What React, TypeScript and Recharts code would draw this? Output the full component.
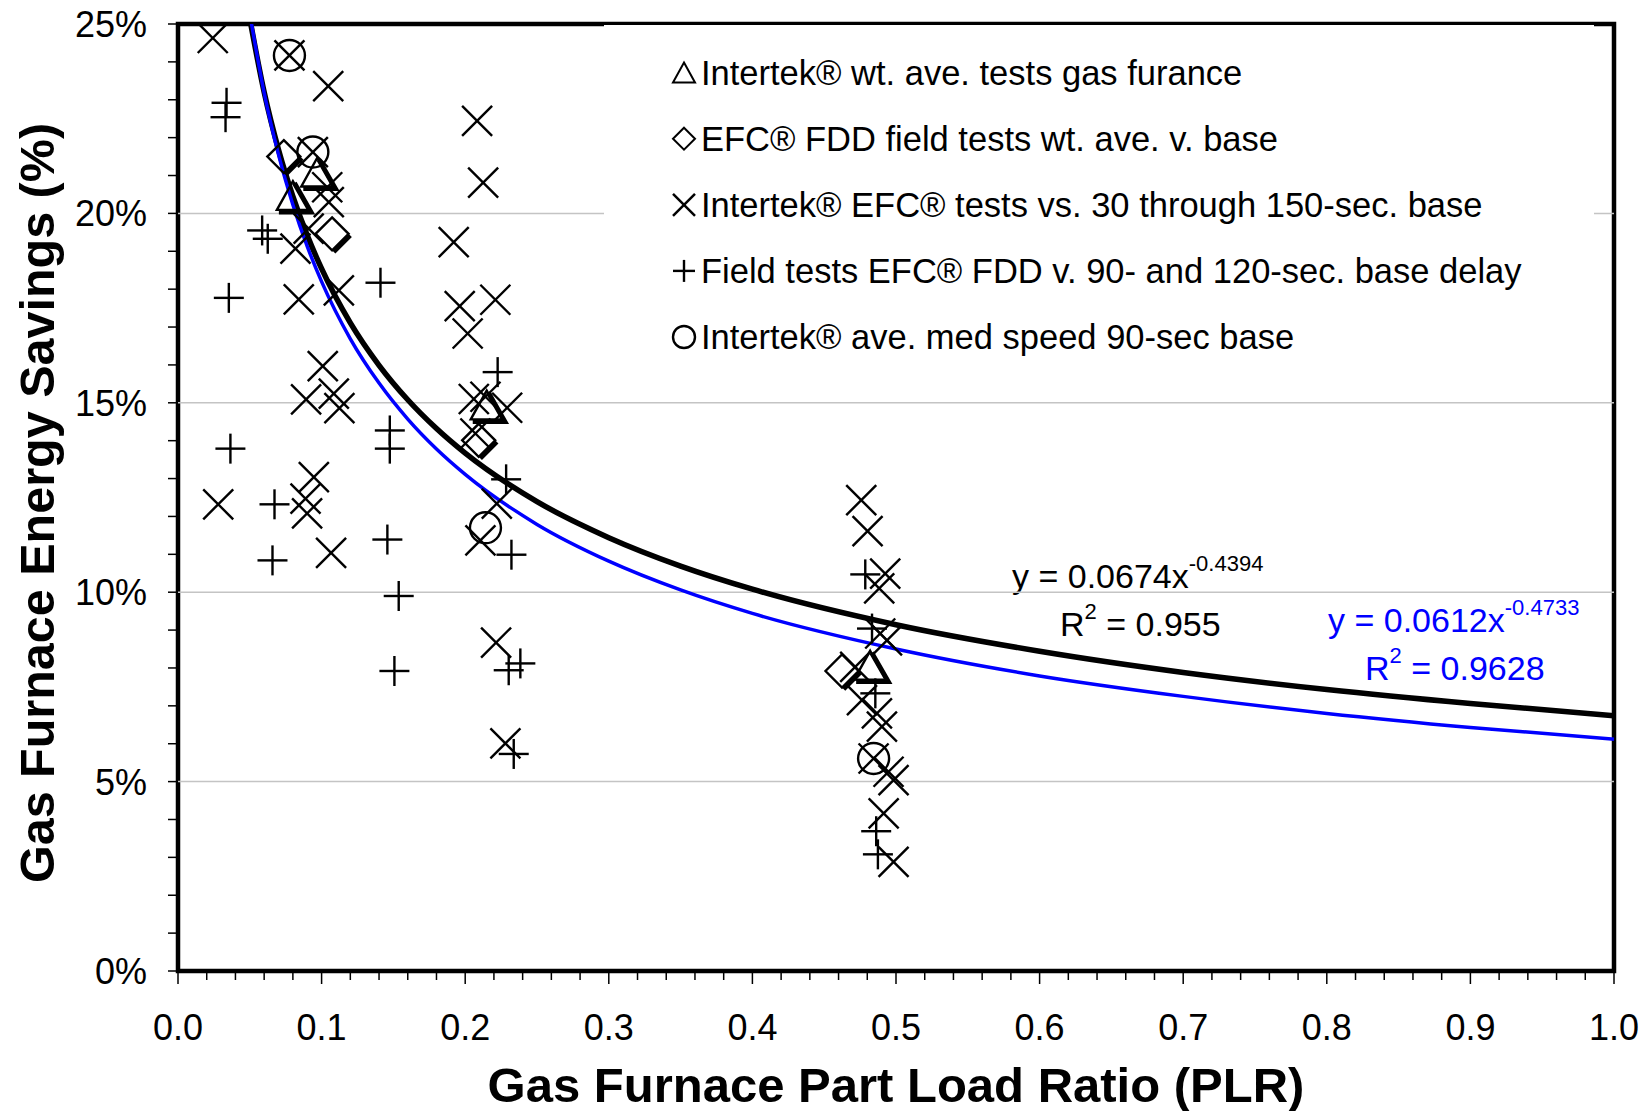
import {
  ComposedChart,
  Legend,
  Line,
  ReferenceArea,
  ReferenceLine,
  Scatter,
  XAxis,
  YAxis,
} from 'recharts';

type Pt = { x: number; y: number };

const FONT = '"Liberation Sans", Arial, Helvetica, sans-serif';

// x = part load ratio, y = savings in %
const intertekWtAve: Pt[] = [
  { x: 0.08, y: 20.43 },
  { x: 0.097, y: 21.05 },
  { x: 0.215, y: 14.9 },
  { x: 0.482, y: 8.03 },
];

const efcFieldWtAve: Pt[] = [
  { x: 0.0737, y: 21.5 },
  { x: 0.1073, y: 19.46 },
  { x: 0.2094, y: 14.01 },
  { x: 0.4624, y: 7.92 },
];

const intertekEfcTests: Pt[] = [
  { x: 0.0242, y: 24.63 },
  { x: 0.0776, y: 24.17 },
  { x: 0.1046, y: 23.36 },
  { x: 0.2083, y: 22.44 },
  { x: 0.2125, y: 20.81 },
  { x: 0.0939, y: 21.62 },
  { x: 0.1039, y: 20.69 },
  { x: 0.105, y: 20.3 },
  { x: 0.091, y: 19.6 },
  { x: 0.192, y: 19.24 },
  { x: 0.0818, y: 19.07 },
  { x: 0.0841, y: 17.73 },
  { x: 0.112, y: 17.97 },
  { x: 0.1962, y: 17.55 },
  { x: 0.221, y: 17.72 },
  { x: 0.2017, y: 16.83 },
  { x: 0.1008, y: 15.97 },
  { x: 0.0892, y: 15.09 },
  { x: 0.1085, y: 15.24 },
  { x: 0.1124, y: 14.86 },
  { x: 0.206, y: 15.1 },
  { x: 0.2141, y: 15.16 },
  { x: 0.2292, y: 14.87 },
  { x: 0.2071, y: 14.19 },
  { x: 0.0946, y: 13.04 },
  { x: 0.028, y: 12.32 },
  { x: 0.0888, y: 12.47 },
  { x: 0.0899, y: 12.08 },
  { x: 0.1066, y: 11.04 },
  { x: 0.222, y: 12.34 },
  { x: 0.2106, y: 11.37 },
  { x: 0.2215, y: 8.67 },
  { x: 0.228, y: 6.01 },
  { x: 0.4758, y: 12.43 },
  { x: 0.4802, y: 11.61 },
  { x: 0.4925, y: 10.49 },
  { x: 0.4883, y: 10.1 },
  { x: 0.489, y: 8.91 },
  { x: 0.4937, y: 8.73 },
  { x: 0.4716, y: 8.03 },
  { x: 0.4763, y: 7.15 },
  { x: 0.4867, y: 6.8 },
  { x: 0.4902, y: 6.45 },
  { x: 0.4844, y: 5.61 },
  { x: 0.4948, y: 5.26 },
  { x: 0.4983, y: 5.04 },
  { x: 0.4914, y: 4.16 },
  { x: 0.4983, y: 2.88 },
];

const fieldTests: Pt[] = [
  { x: 0.0338, y: 22.92 },
  { x: 0.0331, y: 22.54 },
  { x: 0.0586, y: 19.55 },
  { x: 0.0625, y: 19.33 },
  { x: 0.0354, y: 17.77 },
  { x: 0.141, y: 18.17 },
  { x: 0.2226, y: 15.81 },
  { x: 0.1475, y: 14.27 },
  { x: 0.1475, y: 13.79 },
  { x: 0.0365, y: 13.79 },
  { x: 0.2285, y: 12.98 },
  { x: 0.0672, y: 12.32 },
  { x: 0.0658, y: 10.84 },
  { x: 0.2322, y: 10.99 },
  { x: 0.1458, y: 11.39 },
  { x: 0.1537, y: 9.9 },
  { x: 0.1507, y: 7.92 },
  { x: 0.2303, y: 7.94 },
  { x: 0.2384, y: 8.12 },
  { x: 0.2338, y: 5.73 },
  { x: 0.4786, y: 10.47 },
  { x: 0.4833, y: 9.04 },
  { x: 0.4856, y: 7.33 },
  { x: 0.4862, y: 3.69 },
  { x: 0.4874, y: 3.08 },
];

const intertekMedSpeed: Pt[] = [
  { x: 0.0776, y: 24.17 },
  { x: 0.0939, y: 21.62 },
  { x: 0.2141, y: 11.7 },
  { x: 0.4844, y: 5.61 },
];

// trend curves
const blackFit: Pt[] = [
  { x: 0.05, y: 25.14 }, { x: 0.06, y: 23.2 }, { x: 0.07, y: 21.68 },
  { x: 0.08, y: 20.45 }, { x: 0.09, y: 19.42 }, { x: 0.1, y: 18.54 },
  { x: 0.12, y: 17.11 }, { x: 0.14, y: 15.99 }, { x: 0.16, y: 15.08 },
  { x: 0.18, y: 14.32 }, { x: 0.2, y: 13.67 }, { x: 0.25, y: 12.39 },
  { x: 0.3, y: 11.44 }, { x: 0.35, y: 10.69 }, { x: 0.4, y: 10.08 },
  { x: 0.5, y: 9.14 }, { x: 0.6, y: 8.44 }, { x: 0.7, y: 7.88 },
  { x: 0.8, y: 7.43 }, { x: 0.9, y: 7.06 }, { x: 1.0, y: 6.74 },
];

const blueFit: Pt[] = [
  { x: 0.05, y: 25.27 }, { x: 0.06, y: 23.18 }, { x: 0.07, y: 21.55 },
  { x: 0.08, y: 20.23 }, { x: 0.09, y: 19.13 }, { x: 0.1, y: 18.2 },
  { x: 0.12, y: 16.69 }, { x: 0.14, y: 15.52 }, { x: 0.16, y: 14.57 },
  { x: 0.18, y: 13.78 }, { x: 0.2, y: 13.11 }, { x: 0.25, y: 11.79 },
  { x: 0.3, y: 10.82 }, { x: 0.35, y: 10.06 }, { x: 0.4, y: 9.44 },
  { x: 0.5, y: 8.5 }, { x: 0.6, y: 7.79 }, { x: 0.7, y: 7.25 },
  { x: 0.8, y: 6.8 }, { x: 0.9, y: 6.43 }, { x: 1.0, y: 6.12 },
];

const seriesNames = [
  'Intertek® wt. ave. tests gas furance',
  'EFC® FDD field tests wt. ave. v. base',
  'Intertek® EFC® tests vs. 30 through 150-sec. base',
  'Field tests EFC® FDD v. 90- and 120-sec. base delay',
  'Intertek® ave. med speed 90-sec base',
];

const xTicks = Array.from({ length: 51 }, (_, i) => i / 50);
const yTicks = Array.from({ length: 26 }, (_, i) => i);
const yGrid = [5, 10, 15, 20];

const xTitle = 'Gas Furnace Part Load Ratio (PLR)';
const yTitle = 'Gas Furnace Energy Savings (%)';
const blackEq = { coef: 'y = 0.0674x', exp: '-0.4394', r2: '0.955' };
const blueEq = { coef: 'y = 0.0612x', exp: '-0.4733', r2: '0.9628' };

const BLUE = '#0000ff';
const SW = 2.4;

type MarkProps = { cx: number; cy: number; s?: number; shadow?: boolean };

const XMark = ({ cx, cy, s = 15 }: MarkProps) => (
  <g stroke="#000" strokeWidth={SW} fill="none">
    <line x1={cx - s} y1={cy - s} x2={cx + s} y2={cy + s} />
    <line x1={cx - s} y1={cy + s} x2={cx + s} y2={cy - s} />
  </g>
);

const PlusMark = ({ cx, cy, s = 15 }: MarkProps) => (
  <g stroke="#000" strokeWidth={SW} fill="none">
    <line x1={cx - s} y1={cy} x2={cx + s} y2={cy} />
    <line x1={cx} y1={cy - s} x2={cx} y2={cy + s} />
  </g>
);

const CircleMark = ({ cx, cy, s = 15.5 }: MarkProps) => (
  <circle cx={cx} cy={cy} r={s} stroke="#000" strokeWidth={SW} fill="none" />
);

const TriMark = ({ cx, cy, s = 16, shadow = true }: MarkProps) => {
  const b = cy + s * 0.8;
  return (
    <g fill="none" stroke="#000">
      {shadow && (
        <polyline
          points={`${cx + 1.5},${cy - s + 2} ${cx + s + 2},${b + 2} ${cx - s + 2},${b + 2}`}
          strokeWidth={5}
        />
      )}
      <polygon points={`${cx},${cy - s} ${cx + s},${b} ${cx - s},${b}`} strokeWidth={shadow ? SW : 2} />
    </g>
  );
};

const DiamondMark = ({ cx, cy, s = 16.5, shadow = true }: MarkProps) => (
  <g fill="none" stroke="#000">
    {shadow && (
      <polyline points={`${cx + s + 1.5},${cy + 1.5} ${cx + 1.5},${cy + s + 1.5}`} strokeWidth={5} />
    )}
    <polygon
      points={`${cx},${cy - s} ${cx + s},${cy} ${cx},${cy + s} ${cx - s},${cy}`}
      strokeWidth={shadow ? SW : 2}
    />
  </g>
);

const legendMarks = [
  (cx: number, cy: number) => <TriMark cx={cx} cy={cy + 1} s={11} shadow={false} />,
  (cx: number, cy: number) => <DiamondMark cx={cx} cy={cy} s={11} shadow={false} />,
  (cx: number, cy: number) => <XMark cx={cx} cy={cy} s={11} />,
  (cx: number, cy: number) => <PlusMark cx={cx} cy={cy} s={11} />,
  (cx: number, cy: number) => <CircleMark cx={cx} cy={cy} s={11} />,
];

const LegendBox = () => (
  <svg width={990} height={350} style={{ display: 'block' }}>
    {seriesNames.map((name, i) => {
      const cy = 47.6 + i * 66.1;
      return (
        <g key={name}>
          {legendMarks[i](80, cy)}
          <text x={97} y={cy + 12} fontFamily={FONT} fontSize={34.5} fill="#000">
            {name}
          </text>
        </g>
      );
    })}
  </svg>
);

const XTick = (props: any) => {
  const { x, y, payload } = props;
  const v = payload.value as number;
  const major = Math.round(v * 50) % 5 === 0;
  return (
    <g>
      <line x1={x} x2={x} y1={y} y2={y + (major ? 13 : 9)} stroke="#000" strokeWidth={1.5} />
      {major && (
        <text x={x} y={y + 69} textAnchor="middle" fontFamily={FONT} fontSize={36} fill="#000">
          {v.toFixed(1)}
        </text>
      )}
    </g>
  );
};

const YTick = (props: any) => {
  const { x, y, payload } = props;
  const v = payload.value as number;
  return (
    <g>
      <line x1={x - 10} x2={x} y1={y} y2={y} stroke="#000" strokeWidth={1.5} />
      {v % 5 === 0 && (
        <text x={x - 31} y={y + 13} textAnchor="end" fontFamily={FONT} fontSize={36} fill="#000">
          {`${v}%`}
        </text>
      )}
    </g>
  );
};

const Equation = ({ x, y, eq, color }: { x: number; y: number; eq: typeof blackEq; color: string }) => (
  <g fontFamily={FONT} fill={color}>
    <text x={x} y={y} fontSize={34}>
      {eq.coef}
      <tspan dy={-17} fontSize={22}>{eq.exp}</tspan>
    </text>
  </g>
);

const RSquared = ({ x, y, eq, color }: { x: number; y: number; eq: typeof blackEq; color: string }) => (
  <g fontFamily={FONT} fill={color}>
    <text x={x} y={y} fontSize={34}>
      R
      <tspan dy={-17} fontSize={22}>2</tspan>
      <tspan dy={17}>{` = ${eq.r2}`}</tspan>
    </text>
  </g>
);

export default function App() {
  return (
    <div style={{ position: 'absolute', left: 0, top: 0, width: 1650, height: 1111, background: '#fff' }}>
      <ComposedChart width={1650} height={1111} margin={{ top: 24, right: 36, bottom: 0, left: 0 }}>
        <XAxis
          type="number"
          dataKey="x"
          domain={[0, 1]}
          ticks={xTicks}
          interval={0}
          height={140}
          tickSize={0}
          tickMargin={0}
          tickLine={false}
          axisLine={false}
          tick={<XTick />}
        />
        <YAxis
          type="number"
          dataKey="y"
          domain={[0, 25]}
          ticks={yTicks}
          interval={0}
          width={178}
          allowDataOverflow
          tickSize={0}
          tickMargin={0}
          tickLine={false}
          axisLine={false}
          tick={<YTick />}
        />
        {yGrid.map((v) => (
          <ReferenceLine key={v} y={v} stroke="#c4c4c4" strokeWidth={1.5} />
        ))}
        <Scatter data={intertekEfcTests} isAnimationActive={false} shape={(p: any) => <XMark cx={p.cx} cy={p.cy} />} />
        <Scatter data={fieldTests} isAnimationActive={false} shape={(p: any) => <PlusMark cx={p.cx} cy={p.cy} />} />
        <Scatter data={intertekMedSpeed} isAnimationActive={false} shape={(p: any) => <CircleMark cx={p.cx} cy={p.cy} />} />
        <Scatter data={efcFieldWtAve} isAnimationActive={false} shape={(p: any) => <DiamondMark cx={p.cx} cy={p.cy} />} />
        <Scatter data={intertekWtAve} isAnimationActive={false} shape={(p: any) => <TriMark cx={p.cx} cy={p.cy} />} />
        <Line
          data={blackFit}
          dataKey="y"
          type="monotone"
          stroke="#000"
          strokeWidth={5.5}
          dot={false}
          isAnimationActive={false}
        />
        <Line
          data={blueFit}
          dataKey="y"
          type="monotone"
          stroke={BLUE}
          strokeWidth={3.5}
          dot={false}
          isAnimationActive={false}
        />
        <ReferenceArea
          x1={0}
          x2={1}
          y1={0}
          y2={25}
          fill="none"
          fillOpacity={0}
          stroke="#000"
          strokeWidth={4.5}
          ifOverflow="visible"
        />
        <Legend
          layout="vertical"
          align="center"
          verticalAlign="middle"
          content={() => <LegendBox />}
          wrapperStyle={{ left: 604, top: 25, width: 990, height: 350, background: '#fff' }}
        />
        <Equation x={1012} y={588} eq={blackEq} color="#000" />
        <RSquared x={1060} y={636} eq={blackEq} color="#000" />
        <Equation x={1328} y={632} eq={blueEq} color={BLUE} />
        <RSquared x={1365} y={680} eq={blueEq} color={BLUE} />
        <text
          x={896}
          y={1102}
          textAnchor="middle"
          fontFamily={FONT}
          fontWeight="bold"
          fontSize={49}
          fill="#000"
        >
          {xTitle}
        </text>
        <text
          transform="translate(54, 503) rotate(-90)"
          textAnchor="middle"
          fontFamily={FONT}
          fontWeight="bold"
          fontSize={48.5}
          fill="#000"
        >
          {yTitle}
        </text>
      </ComposedChart>
    </div>
  );
}
